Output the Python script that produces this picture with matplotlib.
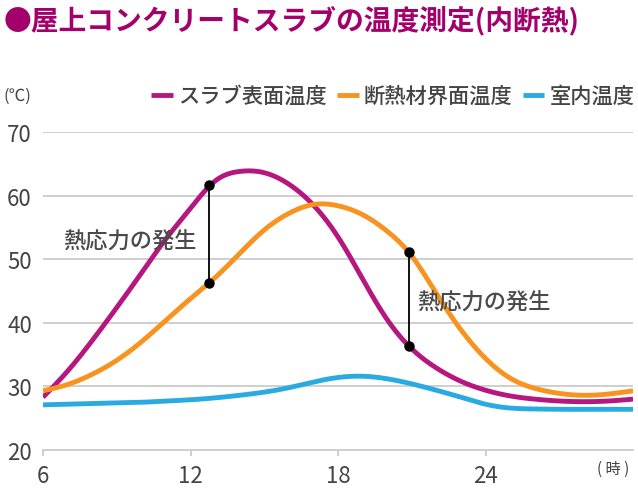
import numpy as np
import matplotlib
matplotlib.use('Agg')
import matplotlib.pyplot as plt

plt.rcParams['font.family'] = ['Noto Sans CJK JP', 'DejaVu Sans']

# hourly temperatures
hours = [6, 7, 8, 9, 10, 11, 12, 13, 14, 15, 16, 17, 18, 19, 20, 21, 22, 23, 24,
         25, 26, 27, 28, 29, 30]
slab_t = [28.3, 32.4, 37.2, 42.4, 47.8, 53.2, 58.0, 62.3, 63.8, 63.6, 61.8, 58.5, 53.5,
          46.9, 40.5, 35.9, 32.9, 30.8, 29.4, 28.5, 28.0, 27.7, 27.6, 27.7, 28.0]
ins_t = [29.3, 30.3, 31.9, 34.1, 37.0, 40.4, 43.8, 47.1, 50.9, 54.6, 57.2, 58.6, 58.4,
         57.0, 54.4, 50.5, 44.6, 38.9, 34.4, 31.3, 29.7, 28.9, 28.6, 28.8, 29.3]
room_t = [27.1, 27.2, 27.3, 27.4, 27.5, 27.7, 27.9, 28.2, 28.6, 29.1, 29.8, 30.7, 31.4,
          31.6, 31.2, 30.4, 29.4, 28.3, 27.2, 26.6, 26.45, 26.4, 26.4, 26.4, 26.4]

stress_h = [12.77, 20.9]
stress_top = [61.6, 51.1]
stress_bot = [46.3, 36.3]

labels = ['スラブ表面温度', '断熱材界面温度', '室内温度']
colors = ['#b5177e', '#f7931e', '#29abe2']
xticks = [6, 12, 18, 24]
yticks = [20, 30, 40, 50, 60, 70]


def smooth(x, y, n=400):
    # natural cubic spline, only used to draw the curve smoothly
    x = np.asarray(x, float)
    y = np.asarray(y, float)
    k = len(x)
    h = np.diff(x)
    A = np.zeros((k, k))
    b = np.zeros(k)
    A[0, 0] = A[-1, -1] = 1
    for i in range(1, k - 1):
        A[i, i - 1] = h[i - 1]
        A[i, i] = 2 * (h[i - 1] + h[i])
        A[i, i + 1] = h[i]
        b[i] = 6 * ((y[i + 1] - y[i]) / h[i] - (y[i] - y[i - 1]) / h[i - 1])
    M = np.linalg.solve(A, b)
    xs = np.linspace(x[0], x[-1], n)
    idx = np.clip(np.searchsorted(x, xs) - 1, 0, k - 2)
    x0, x1 = x[idx], x[idx + 1]
    hh = x1 - x0
    t0, t1 = x1 - xs, xs - x0
    ys = (M[idx] * t0 ** 3 + M[idx + 1] * t1 ** 3) / (6 * hh) \
        + (y[idx] / hh - M[idx] * hh / 6) * t0 + (y[idx + 1] / hh - M[idx + 1] * hh / 6) * t1
    return xs, ys


fig = plt.figure(figsize=(6.38, 4.89), dpi=100)
ax = fig.add_axes([0.0674, 0.0777, 0.9248, 0.6503])

for yv in yticks[1:]:
    ax.axhline(yv, color='#cccccc', lw=1.3, zorder=1)

for ts, lab, c in zip([slab_t, ins_t, room_t], labels, colors):
    xs, ys = smooth(hours, ts)
    ax.plot(xs, ys, color=c, lw=3.5, label=lab, zorder=3, solid_capstyle='butt')

for h, t1, t2 in zip(stress_h, stress_top, stress_bot):
    ax.plot([h, h], [t1, t2], color='black', lw=1.3, zorder=4)
    ax.plot([h, h], [t1, t2], 'o', color='black', ms=6.5, zorder=5)

ax.text(6.82, 52.9, '熱応力の発生', fontsize=16, color='#4a4a4a', va='center', ha='left',
        fontweight='medium')
ax.text(21.2, 43.2, '熱応力の発生', fontsize=16, color='#4a4a4a', va='center', ha='left',
        fontweight='medium')

ax.set_xlim(6, 30)
ax.set_ylim(20, 70)
ax.set_xticks(xticks)
ax.set_yticks(yticks)
ax.tick_params(axis='x', length=4, width=1.3, color='#cccccc', pad=6, labelsize=16,
               labelcolor='#444444')
ax.tick_params(axis='y', length=0, pad=8, labelsize=16, labelcolor='#444444')
for s in ['top', 'right', 'left']:
    ax.spines[s].set_visible(False)
ax.spines['bottom'].set_color('#cccccc')
ax.spines['bottom'].set_linewidth(1.3)

leg = ax.legend(loc='center right', bbox_to_anchor=(1.003, 1.113), ncol=3, frameon=False,
                fontsize=15.3, handlelength=1.0, handletextpad=0.25, columnspacing=0.5,
                borderaxespad=0, borderpad=0, prop={'weight': 'medium', 'size': 15.3})
for t in leg.get_texts():
    t.set_color('#444444')
for l in leg.get_lines():
    l.set_linewidth(3.5)

fig.text(0.005, 0.802, '(℃)', fontsize=12, color='#444444', va='center', ha='left')
fig.text(0.987, 0.040, '( 時 )', fontsize=11, color='#444444', va='center', ha='right')
fig.text(0.005, 0.958, '●屋上コンクリートスラブの温度測定(内断熱)', fontsize=20,
         color='#a3006c', fontweight='bold', va='center', ha='left')

fig.savefig('out.png', dpi=100)
